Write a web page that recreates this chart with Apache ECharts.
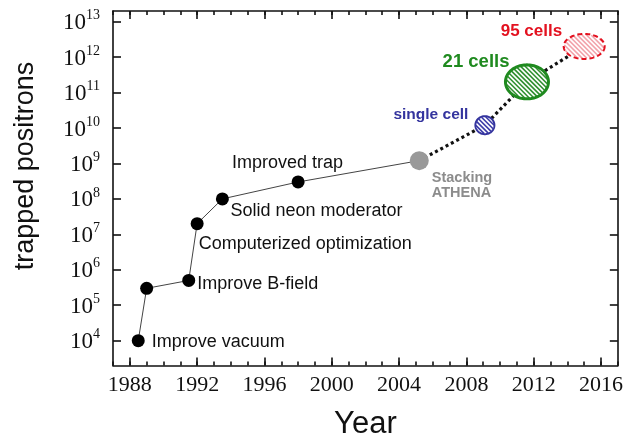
<!DOCTYPE html>
<html>
<head>
<meta charset="utf-8">
<script src="https://cdn.jsdelivr.net/npm/echarts@6/dist/echarts.min.js"></script>
<style>html,body{margin:0;padding:0;background:#fff}#c{width:626px;height:445px}</style>
</head>
<body>
<div id="c"></div>
<script>
// ---- data ----
const milestoneYears  = [1988.5, 1989, 1991.5, 1992, 1993.5, 1998];
const milestoneValues = [1e4, 3e5, 5e5, 2e7, 1e8, 3e8];
const milestoneLabels = ['Improve vacuum', '', 'Improve B-field', 'Computerized optimization', 'Solid neon moderator', 'Improved trap'];
const stackingYear = 2005.2;
const stackingValue = 1.2e9;
const stackingLabel = 'Stacking\nATHENA';
const projYears  = [2009.1, 2011.6, 2015.0];
const projValues = [1.2e10, 2e11, 2e12];
const projLabels = ['single cell', '21 cells', '95 cells'];
const xTickYears = [1988, 1992, 1996, 2000, 2004, 2008, 2012, 2016];
const xMinorYears = [];
for (let y = 1987; y <= 2017; y++) xMinorYears.push(y);
const yTickExponents = [4, 5, 6, 7, 8, 9, 10, 11, 12, 13];

// ---- styling ----
const L = v => Math.log10(v);
const serif = 'Liberation Serif';
const sans = 'Liberation Sans';
const XMIN = 1987, XMAX = 2017, YMIN = 3.3, YMAX = 13.3;

const milestoneLabelCfg = [
  { position: 'right', distance: 7, offset: [0, 1] },
  { show: false },
  { position: 'right', distance: 2, offset: [0, 4] },
  { position: 'right', distance: 0, offset: [-5, 20] },
  { position: 'right', distance: 0, offset: [1.5, 12.5] },
  { position: 'top', distance: 3, offset: [-10.5, 0] }
];

const projColors = ['#34349e', '#1f8a1f', '#e3111f'];
const projHatch = ['#3a3aa8', '#2f8f2f', '#f2a2aa'];
const projSizes = [[19, 18], [43, 34], [41, 25]];
const projBorder = [{ w: 2, d: null }, { w: 3, d: null }, { w: 2, d: [5, 3] }];
const projLabelCfg = [
  { position: 'left', distance: 7, offset: [0, -10], fontSize: 15.5 },
  { position: 'left', distance: 0, offset: [4, -19.5], fontSize: 18.5 },
  { position: 'left', distance: 1.5, offset: [0, -15], fontSize: 17 }
];

function ellipsePoints(cx, cy, a, b) {
  const pts = [];
  for (let i = 0; i < 96; i++) {
    const t = i / 96 * Math.PI * 2;
    pts.push([cx + a * Math.cos(t), cy + b * Math.sin(t)]);
  }
  return pts;
}
function hatchLines(cx, cy, a, b, step) {
  // lines y = x - c (relative to center), going down-right
  const out = [];
  const A = 1 / (a * a) + 1 / (b * b);
  const cmax = Math.sqrt(a * a + b * b);
  for (let c = -Math.floor(cmax / step) * step; c <= cmax; c += step) {
    const B = -2 * c / (b * b);
    const C = c * c / (b * b) - 1;
    const D = B * B - 4 * A * C;
    if (D <= 0) continue;
    const x1 = (-B - Math.sqrt(D)) / (2 * A), x2 = (-B + Math.sqrt(D)) / (2 * A);
    out.push([cx + x1, cy + x1 - c, cx + x2, cy + x2 - c]);
  }
  return out;
}

function renderEllipse(params, api) {
  const i = params.dataIndex;
  const p = api.coord([api.value(0), api.value(1)]);
  const a = projSizes[i][0] / 2, b = projSizes[i][1] / 2;
  const children = [{
    type: 'polygon', shape: { points: ellipsePoints(p[0], p[1], a, b) },
    style: { fill: '#fff', stroke: null }
  }];
  hatchLines(p[0], p[1], a - 0.5, b - 0.5, 4.6).forEach(s => children.push({
    type: 'line', shape: { x1: s[0], y1: s[1], x2: s[2], y2: s[3] },
    style: { stroke: projHatch[i], lineWidth: 1.6 }
  }));
  children.push({
    type: 'polygon', shape: { points: ellipsePoints(p[0], p[1], a, b) },
    style: { fill: null, stroke: projColors[i], lineWidth: projBorder[i].w, lineDash: projBorder[i].d }
  });
  return { type: 'group', children };
}

const frameLine = { show: true, lineStyle: { color: '#111', width: 1.6 } };
function xAx(pos, ticks, len, showLine, labels, extra) {
  return Object.assign({
    type: 'value', min: XMIN, max: XMAX, position: pos,
    axisLine: showLine ? frameLine : { show: false },
    axisTick: { show: true, inside: true, length: len, customValues: ticks, lineStyle: { color: '#111', width: 1.6 } },
    axisLabel: labels ? { show: true, customValues: ticks, formatter: v => String(Math.round(v)), fontFamily: serif, fontSize: 22, color: '#111', margin: 9 } : { show: false },
    splitLine: { show: false }
  }, extra || {});
}
function yAx(pos, labels) {
  return {
    type: 'value', min: YMIN, max: YMAX, position: pos,
    axisLine: frameLine,
    axisTick: { show: true, inside: true, length: 8, customValues: yTickExponents, lineStyle: { color: '#111', width: 1.6 } },
    axisLabel: labels ? {
      show: true, customValues: yTickExponents, margin: 13,
      formatter: v => '{b|10}{s|' + Math.round(v) + '}',
      rich: {
        b: { fontFamily: serif, fontSize: 23, color: '#111', lineHeight: 26, verticalAlign: 'bottom' },
        s: { fontFamily: serif, fontSize: 14, color: '#111', lineHeight: 26, verticalAlign: 'top' }
      }
    } : { show: false },
    splitLine: { show: false }
  };
}

const projData = projYears.map((y, i) => [y, L(projValues[i])]);

const option = {
  backgroundColor: '#fff',
  animation: false,
  grid: { left: 113, right: 5, top: 11, bottom: 76, containLabel: false },
  xAxis: [
    xAx('bottom', xTickYears, 8, true, true, {
      name: 'Year', nameLocation: 'middle', nameGap: 59,
      nameTextStyle: { fontFamily: sans, fontSize: 31, color: '#111', verticalAlign: 'middle' }
    }),
    xAx('bottom', xMinorYears, 4, false, false),
    xAx('top', xTickYears, 8, true, false),
    xAx('top', xMinorYears, 4, false, false)
  ],
  yAxis: [yAx('left', true), yAx('right', false)],
  graphic: [{
    type: 'text', x: 26, y: 166, rotation: Math.PI / 2,
    style: { text: 'trapped positrons', fontFamily: sans, fontSize: 27, fill: '#111', align: 'center', verticalAlign: 'middle' }
  }],
  series: [
    {
      type: 'line', xAxisIndex: 0, yAxisIndex: 0, showSymbol: false, silent: true, z: 2,
      lineStyle: { color: '#444', width: 1 },
      data: milestoneYears.map((y, i) => [y, L(milestoneValues[i])]).concat([[stackingYear, L(stackingValue)]])
    },
    {
      type: 'line', xAxisIndex: 0, yAxisIndex: 0, showSymbol: false, silent: true, z: 2,
      lineStyle: { color: '#111', width: 3.2, type: [3, 3] },
      data: [[stackingYear, L(stackingValue)]].concat(projData)
    },
    {
      type: 'scatter', xAxisIndex: 0, yAxisIndex: 0, z: 3, symbolSize: 13,
      itemStyle: { color: '#000', opacity: 1 },
      label: { show: true, fontFamily: sans, fontSize: 18, color: '#111', formatter: p => milestoneLabels[p.dataIndex] },
      data: milestoneYears.map((y, i) => ({
        value: [y, L(milestoneValues[i])],
        label: milestoneLabelCfg[i]
      }))
    },
    {
      type: 'scatter', xAxisIndex: 0, yAxisIndex: 0, z: 3, symbolSize: 19,
      itemStyle: { color: '#999', opacity: 1 },
      label: {
        show: true, position: 'right', distance: 0, offset: [3, 25],
        formatter: stackingLabel, fontFamily: sans, fontWeight: 'bold', fontSize: 14.5,
        color: '#8c8c8c', lineHeight: 15, align: 'left'
      },
      data: [[stackingYear, L(stackingValue)]]
    },
    {
      type: 'custom', xAxisIndex: 0, yAxisIndex: 0, z: 4, silent: true,
      renderItem: renderEllipse,
      data: projData
    },
    {
      type: 'scatter', xAxisIndex: 0, yAxisIndex: 0, z: 5, silent: true,
      itemStyle: { color: 'rgba(0,0,0,0)', borderWidth: 0, opacity: 1 },
      label: { show: true, fontFamily: sans, fontWeight: 'bold', opacity: 1, formatter: p => projLabels[p.dataIndex] },
      data: projData.map((v, i) => ({
        value: v,
        symbolSize: projSizes[i],
        label: Object.assign({ color: projColors[i] }, projLabelCfg[i])
      }))
    }
  ]
};

const chart = echarts.init(document.getElementById('c'), null, { renderer: 'canvas' });
chart.setOption(option);
</script>
</body>
</html>
